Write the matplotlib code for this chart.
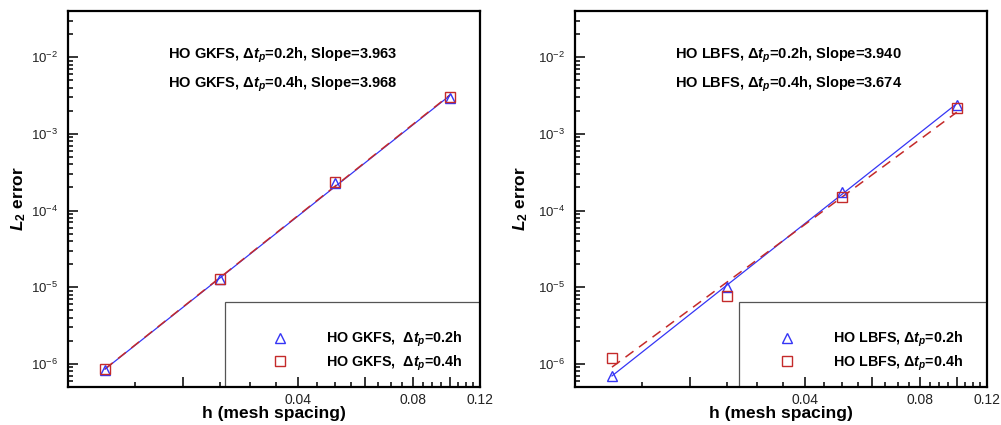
import numpy as np
import matplotlib
matplotlib.use("Agg")
import matplotlib.pyplot as plt
from matplotlib.ticker import FixedLocator, FixedFormatter, LogLocator, NullFormatter
from matplotlib.patches import Rectangle

plt.rcParams['font.family'] = ['Liberation Sans', 'DejaVu Sans']
plt.rcParams['mathtext.fontset'] = 'custom'
plt.rcParams['mathtext.it'] = 'Liberation Sans:italic:bold'
plt.rcParams['mathtext.rm'] = 'Liberation Sans:bold'
plt.rcParams['mathtext.bf'] = 'Liberation Sans:bold'

# mesh spacing
h = [0.0125, 0.025, 0.05, 0.1]

# L2 errors
gkfs_02 = [8.4e-7, 1.27e-5, 2.31e-4, 2.94e-3]
gkfs_04 = [8.5e-7, 1.28e-5, 2.33e-4, 3.00e-3]
lbfs_02 = [6.98e-7, 1.02e-5, 1.76e-4, 2.38e-3]
lbfs_04 = [1.20e-6, 7.6e-6, 1.52e-4, 2.18e-3]

# slopes printed on the plots
slopes_gkfs = ["3.963", "3.968"]
slopes_lbfs = ["3.940", "3.674"]

x_major = [0.02, 0.04, 0.06, 0.08, 0.1, 0.12]
x_major_lab = ["", "0.04", "", "0.08", "", "0.12"]
x_minor = [0.015, 0.025, 0.03, 0.035, 0.045, 0.05, 0.055, 0.065, 0.07, 0.075,
           0.085, 0.09, 0.095, 0.105, 0.11, 0.115]

blue = '#3535f5'
red = '#c42a2a'


def fit(x, y):
    p = np.polyfit(np.log10(x), np.log10(y), 1)
    return 10 ** np.polyval(p, np.log10(x))


def panel(ax, name, sep, y1, y2, slopes, box_x0, ylab_x):
    ax.set_xscale('log')
    ax.set_yscale('log')
    ax.plot(h, fit(h, y1), color=blue, lw=0.9)
    ax.plot(h, fit(h, y2), color=red, lw=1.1, dashes=(6.5, 4.5))
    ax.plot(h, y1, ls='none', marker='^', ms=7.5, mfc='none', mec=blue, mew=1.0,
            label=name + "," + sep + "Δ$t_p$=0.2h")
    ax.plot(h, y2, ls='none', marker='s', ms=7, mfc='none', mec=red, mew=1.0,
            label=name + "," + sep + "Δ$t_p$=0.4h")
    ax.set_xlim(0.01, 0.12)
    ax.set_ylim(5e-7, 4e-2)

    ax.xaxis.set_major_locator(FixedLocator(x_major))
    ax.xaxis.set_major_formatter(FixedFormatter(x_major_lab))
    ax.xaxis.set_minor_locator(FixedLocator(x_minor))
    ax.xaxis.set_minor_formatter(NullFormatter())
    ax.yaxis.set_major_locator(LogLocator(base=10, numticks=20))
    ax.yaxis.set_minor_locator(LogLocator(base=10, subs=np.arange(2, 10), numticks=20))
    ax.yaxis.set_minor_formatter(NullFormatter())

    ax.tick_params(which='both', direction='in', top=False, right=False, width=1.1, colors='black')
    ax.tick_params(which='major', length=7)
    ax.tick_params(which='minor', length=3.5)
    ax.tick_params(axis='x', labelsize=10, pad=4, labelcolor='#222222')
    ax.tick_params(axis='y', labelsize=9.5, pad=7, labelcolor='#222222')
    for s in ax.spines.values():
        s.set_linewidth(1.6)

    ax.set_xlabel("h (mesh spacing)", fontsize=12.5, fontweight='bold')
    ax.xaxis.set_label_coords(0.5, -0.05)
    ax.set_ylabel("$L_\\mathdefault{2}$ error", fontsize=12.5, fontweight='bold')
    ax.yaxis.set_label_coords(ylab_x, 0.5)

    ax.text(0.243, 0.883, name + ", Δ$t_p$=0.2h, Slope=" + slopes[0], transform=ax.transAxes,
            fontsize=10.5, fontweight='bold', va='center')
    ax.text(0.243, 0.806, name + ", Δ$t_p$=0.4h, Slope=" + slopes[1], transform=ax.transAxes,
            fontsize=10.5, fontweight='bold', va='center')

    ax.add_patch(Rectangle((box_x0, 0), 1 - box_x0, 0.226, transform=ax.transAxes,
                           fill=False, edgecolor='#555555', lw=0.9, zorder=1))
    leg = ax.legend(loc='upper left', bbox_to_anchor=(0.497, 0.152), borderaxespad=0,
                    borderpad=0, frameon=False, handlelength=1.0, handletextpad=2.7,
                    labelspacing=0.3, prop={'size': 10.3, 'weight': 'bold'})
    return leg


fig = plt.figure(figsize=(10.01, 4.25), dpi=100)
ax1 = fig.add_axes([0.0679, 0.0894, 0.4116, 0.8847])
ax2 = fig.add_axes([0.5744, 0.0894, 0.4116, 0.8847])

panel(ax1, "HO GKFS", "  ", gkfs_02, gkfs_04, slopes_gkfs, 0.381, -0.098)
panel(ax2, "HO LBFS", " ", lbfs_02, lbfs_04, slopes_lbfs, 0.398, -0.108)

fig.savefig("out.png", dpi=100)
